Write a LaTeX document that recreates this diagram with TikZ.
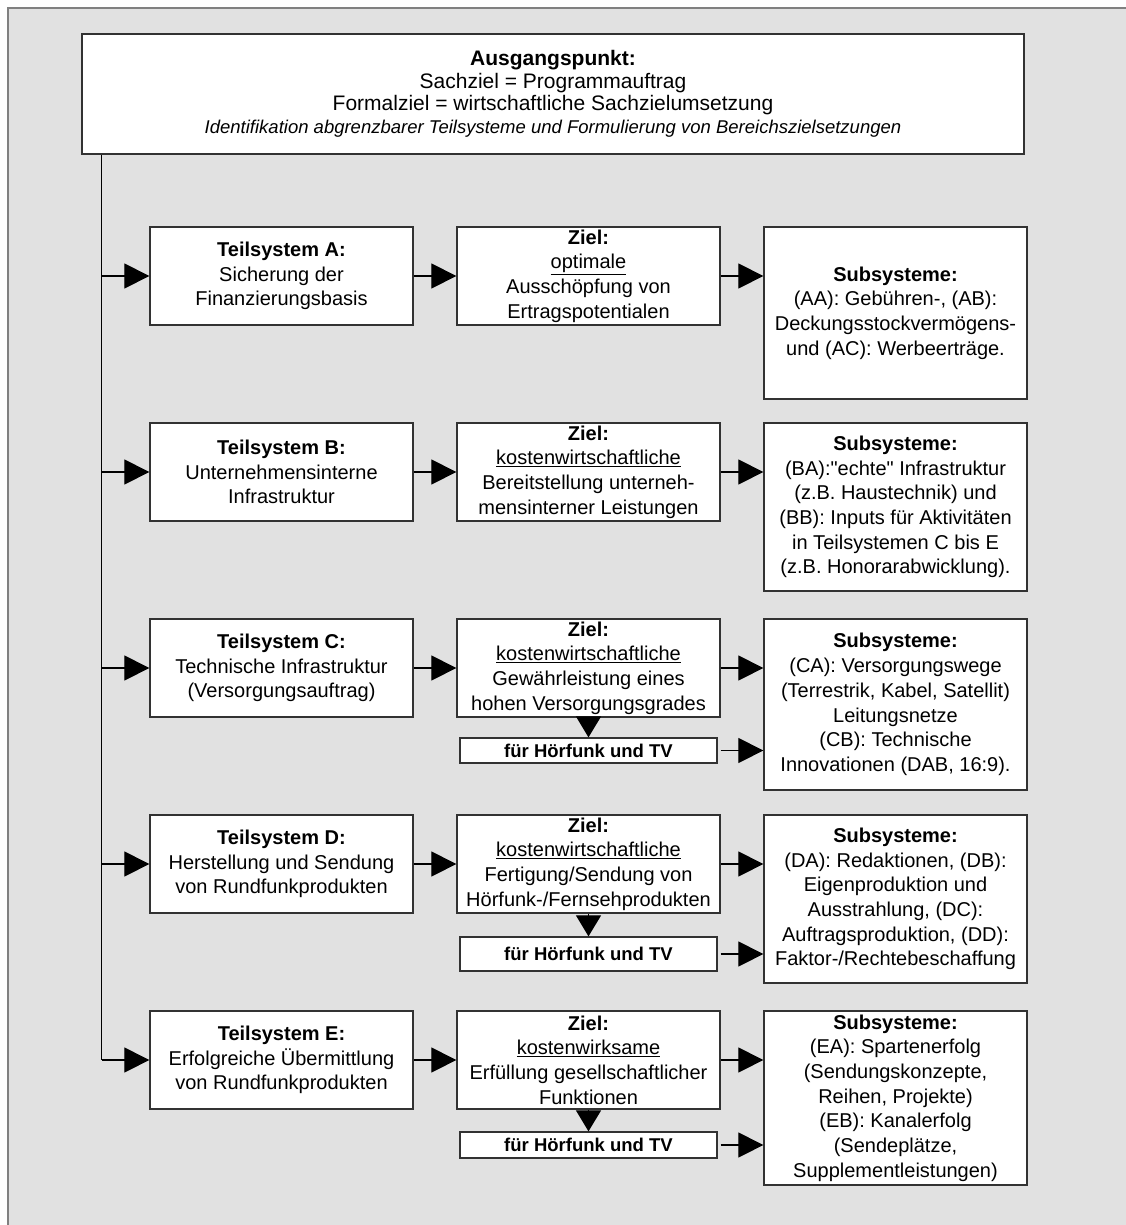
\documentclass[tikz,border=0pt]{standalone}
\usepackage{fontspec}
\setmainfont{Liberation Sans}
\newfontfamily\plainq{Liberation Sans}
\usetikzlibrary{arrows.meta}
\definecolor{bgcol}{RGB}{225,225,225}
\definecolor{framecol}{RGB}{128,128,128}
\definecolor{boxcol}{RGB}{50,50,50}
\begin{document}
\begin{tikzpicture}[x=1pt,y=-1pt,
  box/.style={draw=boxcol, line width=1.3pt, fill=white, inner sep=0pt, align=center,
    font=\fontsize{20}{24.7}\selectfont},
  teil/.style={box, minimum width=263pt, minimum height=98pt},
  sub/.style={box, minimum width=263pt},
  fuer/.style={box, minimum width=257pt, font=\fontsize{18.5}{22}\selectfont\bfseries},
  conn/.style={line width=1.2pt, draw=black},
  arr/.style={conn, -{Triangle[length=25pt,width=25pt]}},
  darr/.style={conn, -{Triangle[length=21pt,width=25pt]}}]
\useasboundingbox (0,0) rectangle (1126,1225);
\clip (0,0) rectangle (1126,1225);
\fill[bgcol] (8,8) rectangle (1140,1240);
\draw[framecol, line width=2pt] (1140,8) -- (8,8) -- (8,1240);

% top box
\node[box, minimum width=942pt, minimum height=120pt, font=\fontsize{21}{22.5}\selectfont] (top) at (553,94)
  {\textbf{Ausgangspunkt:}\\ Sachziel = Programmauftrag\\ Formalziel = wirtschaftliche Sachzielumsetzung\\
   {\fontsize{18.5}{22.5}\selectfont\itshape Identifikation abgrenzbarer Teilsysteme und Formulierung von Bereichszielsetzungen}};

% row A
\node[teil] (ta) at (281.5,276) {\textbf{Teilsystem A:}\\ Sicherung der\\ Finanzierungsbasis};
\node[teil] (za) at (588.5,276) {\textbf{Ziel:}\\ \underline{optimale}\\ Ausschöpfung von\\ Ertragspotentialen};
\node[sub, minimum height=172pt] (sa) at (895.5,313) {\textbf{Subsysteme:}\\ (AA): Gebühren-, (AB):\\ Deckungsstockvermögens-\\ und (AC): Werbeerträge.};

% row B
\node[teil] (tb) at (281.5,472) {\textbf{Teilsystem B:}\\ Unternehmensinterne\\ Infrastruktur};
\node[teil] (zb) at (588.5,472) {\textbf{Ziel:}\\ \underline{kostenwirtschaftliche}\\ Bereitstellung unterneh-\\ mensinterner Leistungen};
\node[sub, minimum height=168pt] (sb) at (895.5,507) {\textbf{Subsysteme:}\\ (BA):{\plainq"}echte{\plainq"} Infrastruktur\\ (z.B. Haustechnik) und\\ (BB): Inputs für Aktivitäten\\ in Teilsystemen C bis E\\ (z.B. Honorarabwicklung).};

% row C
\node[teil] (tc) at (281.5,668) {\textbf{Teilsystem C:}\\ Technische Infrastruktur\\ (Versorgungsauftrag)};
\node[teil] (zc) at (588.5,668) {\textbf{Ziel:}\\ \underline{kostenwirtschaftliche}\\ Gewährleistung eines\\ hohen Versorgungsgrades};
\node[fuer, minimum height=25pt] (fc) at (588.5,750.5) {für Hörfunk und TV};
\node[sub, minimum height=171pt] (sc) at (895.5,704.5) {\textbf{Subsysteme:}\\ (CA): Versorgungswege\\ (Terrestrik, Kabel, Satellit)\\ Leitungsnetze\\ (CB): Technische\\ Innovationen (DAB, 16:9).};

% row D
\node[teil] (td) at (281.5,864) {\textbf{Teilsystem D:}\\ Herstellung und Sendung\\ von Rundfunkprodukten};
\node[teil] (zd) at (588.5,864) {\textbf{Ziel:}\\ \underline{kostenwirtschaftliche}\\ Fertigung/Sendung von\\ Hörfunk-/Fernsehprodukten};
\node[fuer, minimum height=34pt] (fd) at (588.5,954) {für Hörfunk und TV};
\node[sub, minimum height=168pt] (sd) at (895.5,899) {\textbf{Subsysteme:}\\ (DA): Redaktionen, (DB):\\ Eigenproduktion und\\ Ausstrahlung, (DC):\\ Auftragsproduktion, (DD):\\ Faktor-/Rechtebeschaffung};

% row E
\node[teil] (te) at (281.5,1060) {\textbf{Teilsystem E:}\\ Erfolgreiche Übermittlung\\ von Rundfunkprodukten};
\node[teil] (ze) at (588.5,1060) {\textbf{Ziel:}\\ \underline{kostenwirksame}\\ Erfüllung gesellschaftlicher\\ Funktionen};
\node[fuer, minimum height=26pt] (fe) at (588.5,1145) {für Hörfunk und TV};
\node[sub, minimum height=174pt] (se) at (895.5,1098) {\textbf{Subsysteme:}\\ (EA): Spartenerfolg\\ (Sendungskonzepte,\\ Reihen, Projekte)\\ (EB): Kanalerfolg\\ (Sendeplätze,\\ Supplementleistungen)};

% trunk line
\coordinate (vx) at (101.5,0);
\draw[conn] (top.south -| vx) -- (te.west -| vx);
\foreach \t in {ta,tb,tc,td,te} {
  \draw[arr] (\t.west -| vx) -- (\t.west);
}
\foreach \t/\z/\s in {ta/za/sa,tb/zb/sb,tc/zc/sc,td/zd/sd,te/ze/se} {
  \draw[arr] (\t.east) -- (\z.west);
  \draw[arr] (\z.east) -- (\z.east -| \s.west);
}
\foreach \z/\f/\s in {zc/fc/sc,zd/fd/sd,ze/fe/se} {
  \draw[darr] (\z.south) -- (\f.north);
  \draw[arr] ([xshift=3pt]\f.east) -- (\f.east -| \s.west);
}
\end{tikzpicture}
\end{document}
